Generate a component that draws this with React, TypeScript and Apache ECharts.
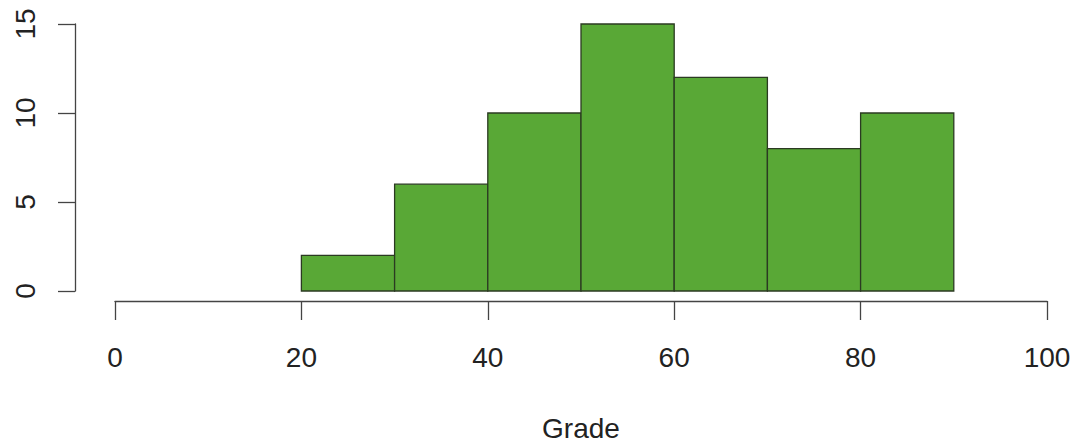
import React, { useEffect, useRef } from "react";
import * as echarts from "echarts";

const binStarts = [20, 30, 40, 50, 60, 70, 80];
const binEnds = [30, 40, 50, 60, 70, 80, 90];
const counts = [2, 6, 10, 15, 12, 8, 10];
const xAxisTitle = "Grade";

export default function App() {
  const ref = useRef<HTMLDivElement>(null);
  useEffect(() => {
    document.body.style.margin = "0";
    const chart = echarts.init(ref.current!, null, { renderer: "svg" });
    const data = counts.map((c, i) => [binStarts[i], binEnds[i], c]);
    const font = "'Liberation Sans', Arial, Helvetica, sans-serif";
    chart.setOption({
      animation: false,
      backgroundColor: "#ffffff",
      grid: { left: 115, right: 34, top: 24, bottom: 152, outerBoundsMode: "none", containLabel: false },
      xAxis: {
        type: "value",
        min: 0,
        max: 100,
        interval: 20,
        offset: 10,
        name: xAxisTitle,
        nameLocation: "middle",
        nameGap: 127,
        nameTextStyle: { fontSize: 28, color: "#222", fontFamily: font, verticalAlign: "middle" },
        splitLine: { show: false },
        axisLine: { show: true, onZero: false, lineStyle: { color: "#444", width: 1.3 } },
        axisTick: { show: true, inside: false, length: 19, lineStyle: { color: "#444", width: 1.3 } },
        axisLabel: { margin: 42, fontSize: 28, color: "#222", fontFamily: font },
      },
      yAxis: {
        type: "value",
        min: 0,
        max: 15,
        interval: 5,
        offset: 40,
        splitLine: { show: false },
        axisLine: { show: true, onZero: false, lineStyle: { color: "#444", width: 1.3 } },
        axisTick: { show: true, length: 17, lineStyle: { color: "#444", width: 1.3 } },
        axisLabel: { margin: 36, fontSize: 28, color: "#222", fontFamily: font, rotate: 90 },
      },
      series: [
        {
          type: "custom",
          data,
          encode: { x: [0, 1], y: 2 },
          renderItem: (params: any, api: any) => {
            const p0 = api.coord([api.value(0), api.value(2)]);
            const p1 = api.coord([api.value(1), 0]);
            return {
              type: "rect",
              shape: { x: p0[0], y: p0[1], width: p1[0] - p0[0], height: p1[1] - p0[1] },
              style: { fill: "#59a836", stroke: "#2b3a22", lineWidth: 1.3 },
            };
          },
        },
      ],
    });
    return () => chart.dispose();
  }, []);
  return <div ref={ref} style={{ width: 1081, height: 443 }} />;
}
